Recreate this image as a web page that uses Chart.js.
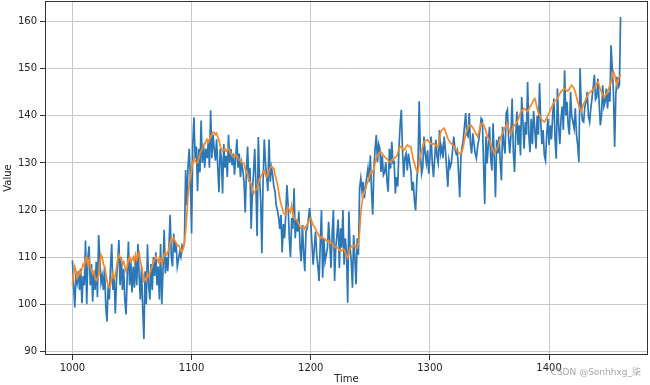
<!DOCTYPE html>
<html>
<head>
<meta charset="utf-8">
<script src="https://cdn.jsdelivr.net/npm/chart.js@4.4.0/dist/chart.umd.min.js"></script>
<style>
  html, body { margin: 0; padding: 0; background: #fff; }
  #wrap { width: 650px; height: 385px; position: relative; }
</style>
</head>
<body>
<div id="wrap"><canvas id="chart"></canvas></div>
<script>
// time axis starts at 1000, one value per step
const startTime = 1000
const xTicks = [1000, 1100, 1200, 1300, 1400]
const yTicks = [90, 100, 110, 120, 130, 140, 150, 160]

// noisy series (blue)
const series = [
  109.3, 104, 99.3, 106, 104.5, 107, 103, 107.5, 100.2, 106,
  104, 113.5, 100, 110, 112.3, 104, 108.5, 100.5, 107, 103,
  109, 101.5, 114.7, 110, 104.5, 106, 103, 108, 99.5, 96.3,
  104, 101, 108, 112.8, 103, 106, 98, 105, 109, 113.6,
  104, 110, 103, 107.5, 101, 97.8, 106, 113.3, 104, 109,
  102.5, 108, 103.5, 110, 104, 112.8, 106, 101, 108, 99,
  92.6, 107, 100, 112.7, 104, 101, 108.5, 103, 110, 106,
  111, 104, 108, 101, 112.8, 100, 107, 115.8, 106.5, 110,
  107, 112, 119, 110, 108, 115, 111, 113, 108, 109.5,
  111, 110, 112.5, 112, 113, 128.5, 121, 129, 133, 127,
  115, 134, 139.7, 131, 133.5, 124, 133, 128, 139, 130,
  134, 129, 133, 131, 134.5, 129, 141.2, 131, 136, 133,
  130.5, 135, 129, 123.8, 133, 131, 123.5, 134, 129, 131.5,
  127, 136, 130, 133, 129.5, 132, 127.5, 131, 135, 129,
  132, 127, 130, 128.5, 126, 119.5, 128, 133.5, 126, 129,
  116, 124, 128, 133, 125, 114.5, 135.5, 127, 122, 110.8,
  126, 135, 130, 127, 124, 135, 126, 129, 127.5, 125,
  124, 121, 120, 118.5, 116, 119, 111, 117, 114, 119,
  125.3, 121, 114, 110, 118.3, 116, 124.6, 114, 118, 115.4,
  119.7, 112, 109.1, 116.8, 111, 107, 115.4, 116.1, 118, 120.4,
  117.5, 113, 108.4, 111.9, 115.4, 110.5, 108, 104.9, 113, 120,
  105.6, 114, 109, 110.5, 111.9, 117.5, 113, 107.7, 115, 120,
  104.9, 111.9, 114.7, 118, 107.7, 116.1, 112, 120, 108.4, 114,
  111, 100.3, 119.7, 112, 109.1, 103.5, 114.7, 110, 104.2, 114,
  110.5, 124.6, 126.7, 124, 126, 122.5, 125, 127, 128.8, 126,
  131.6, 124, 119, 128.8, 133, 135.9, 130.2, 134, 133, 128.1,
  131.6, 127.4, 128, 130.2, 126, 123.9, 133, 128.8, 134.5, 130,
  130.2, 123.5, 127, 125, 133, 138, 141.3, 132.7, 127, 131,
  132, 128.4, 132, 130, 128.4, 124.1, 126, 122, 119.9, 126.3,
  130, 143.1, 132, 127.7, 129, 135.6, 132, 130, 132.7, 127.7,
  131, 135.6, 129.9, 127, 131, 134.9, 131.3, 130, 137, 132,
  133.4, 131, 135.6, 132.7, 129, 124.9, 130.6, 129.1, 130, 132.7,
  135.6, 133, 132, 132.7, 128, 122.7, 131.3, 133.4, 135, 137.7,
  140.6, 136, 135.6, 140.6, 134, 132, 136.3, 134.1, 132, 131,
  133.4, 134.9, 137, 139.5, 139.1, 130, 121.3, 135.6, 129.9, 134,
  137.7, 131, 128.4, 138.4, 131, 122.7, 134.9, 132, 135.6, 130,
  126.3, 137.7, 134, 132, 140.6, 141.3, 135.6, 132, 136, 143.7,
  132.3, 128.1, 136, 140.9, 133.8, 138, 131.6, 144, 139, 133,
  138.7, 136, 147.2, 136, 132.3, 139.4, 134, 141, 137.3, 133,
  140, 136, 147, 138.7, 134, 137, 131.6, 130.5, 136, 139.4,
  133.8, 138, 135, 140.1, 143.7, 135, 130.9, 145.8, 138, 134,
  139.4, 142, 137, 149.7, 140.1, 143, 138, 136, 145.1, 140,
  138.7, 137.3, 141.6, 136, 133.8, 130.2, 150.1, 141.6, 139, 138.7,
  142, 143, 145.1, 140, 138.7, 141.6, 143.7, 146, 148.7, 143.5,
  144, 147.9, 143, 138, 140, 146.5, 142, 143, 145.8, 141.6,
  145, 143, 155, 150, 145, 133.4, 144.4, 148.3, 146, 146.5,
  161
]

// smoothed forecast (orange)
const forecast = [
  104, 106.5, 108, 107, 105.5, 106, 107, 106.5, 107.5, 108.5,
  108, 109.5, 110, 108.5, 109.5, 108, 107, 106.5, 107, 105.5,
  105, 105.5, 106, 108.5, 110.5, 110, 108.5, 108, 106.5, 105,
  104, 103.5, 104, 105.5, 106.5, 105.5, 106, 108, 109.5, 110.5,
  110, 109.5, 108.5, 109, 108, 107, 108, 109.5, 110, 109,
  109.5, 110, 109, 110.5, 109.5, 110.5, 111, 109, 108, 106.5,
  105, 105.5, 105, 106.5, 106, 106.5, 107.5, 108, 109, 109.5,
  110, 109.5, 109, 110, 109.5, 108.5, 109.5, 110.5, 111, 110.5,
  111, 112, 113, 114, 113.5, 114, 113.5, 113, 112.5, 112.5,
  112, 111.5, 111, 112, 113, 115.5, 119, 123, 125.5, 127,
  128.5, 130, 131, 130.5, 130, 130, 131, 132, 132.5, 133,
  134, 134, 134.5, 135, 134.5, 135, 135.5, 136, 136.5, 136.5,
  136, 136.3, 135.5, 134.8, 133.5, 133, 132.5, 132.7, 133, 132.5,
  132.7, 133, 132.5, 132, 131.5, 131.3, 131.5, 131.8, 131.5, 131,
  130.6, 130.5, 130.2, 130, 129.9, 128.8, 128, 127.7, 126.5, 126,
  125.5, 124.5, 123.5, 124, 124.2, 124.5, 125.5, 126.5, 127, 127.5,
  128, 128.4, 127.5, 127, 127.5, 128.5, 129, 129.3, 129, 128.8,
  127.5, 126.5, 125.5, 124, 122.5, 121.3, 120.5, 119.5, 119.2, 119,
  120, 120.5, 120, 119.5, 121, 119.5, 118.3, 118, 117.8, 117.5,
  117, 116.5, 116.1, 116.3, 116.5, 116, 116.5, 116.8, 117.5, 118,
  118.3, 117.5, 116.8, 116.5, 116, 115.4, 115, 114.5, 114, 114.3,
  114, 114, 113.8, 113.5, 113.3, 113.5, 113, 113, 112.8, 112.5,
  112.3, 112, 111.9, 112, 111.5, 111.2, 111.4, 111.6, 111.6, 111,
  110.3, 109.8, 110.8, 112, 112.3, 112, 112.3, 112.5, 112, 111.9,
  113, 115.4, 119.5, 121.5, 123, 123.9, 124.5, 125.5, 126, 127,
  128, 128.3, 128, 128.8, 130, 131, 131.6, 132, 132.3, 132.3,
  132, 131.6, 131.3, 131, 130.9, 130.5, 130.3, 130.2, 130.5, 130.9,
  131, 131.2, 131.4, 132, 133, 133.5, 133.4, 133, 132.7, 133,
  133.5, 133.8, 133.6, 133.5, 133.4, 132, 130.8, 129.9, 129, 128.3,
  128.1, 130, 131.5, 132.5, 133.5, 134.5, 134.7, 134.8, 134.9, 134.5,
  134.3, 134.1, 134, 134.1, 134, 133.8, 133.5, 133.4, 135, 136.5,
  137, 137.2, 137.4, 136.8, 136, 135.2, 134.8, 134.3, 134.1, 133.8,
  133.5, 133.2, 132.8, 132.5, 132.2, 132, 132, 132.5, 133.5, 134.9,
  136, 137, 137.5, 138, 138.1, 137.8, 137.5, 137, 136.5, 136,
  135.6, 136.5, 137.5, 138.4, 138.3, 138.1, 137.5, 136.8, 135.8, 135.2,
  134.8, 134.1, 133.3, 132.6, 132, 132.4, 133, 133.4, 134.3, 135.2,
  135.8, 136.3, 137, 137.5, 138, 138.3, 137.5, 136.5, 136, 137,
  137.8, 138, 138.3, 138.6, 139.2, 140, 140.7, 141, 141.3, 141.6,
  141.4, 141.1, 140.9, 141.5, 142, 142.3, 142.8, 143.4, 143.7, 142.8,
  141.5, 140.6, 140.2, 139.6, 139.1, 138.9, 138.7, 139, 139.6, 140.1,
  140.6, 141.2, 141.8, 142.3, 142.8, 143.2, 143.4, 143.7, 144.2, 144.7,
  145.1, 145.4, 145.6, 145.8, 145.6, 145.3, 145.3, 145.7, 146.2, 146.5,
  146.2, 145.8, 145, 144, 143, 142.2, 141.5, 140.9, 141.8, 142.6,
  143, 143.6, 144.2, 144.6, 144.9, 145.1, 145.4, 145.6, 145.8, 146.4,
  146.9, 147.2, 146.5, 145.6, 145.1, 144.5, 143.9, 144.2, 144.7, 145.1,
  145.7, 146.5, 147.2, 148.6, 149.4, 148.7, 147.5, 146.5, 147.9, 148.3,
  148.7
]

const toPoints = arr => arr.map((v, i) => ({ x: startTime + i, y: v }))

// full box round the plot, like matplotlib spines
const frame = {
  id: 'frame',
  afterDatasetsDraw(chart) {
    const { ctx, chartArea: a } = chart
    ctx.save()
    ctx.strokeStyle = '#333'
    ctx.lineWidth = 1
    ctx.strokeRect(a.left + 0.5, a.top + 0.5, a.right - a.left - 1, a.bottom - a.top - 1)
    ctx.restore()
  }
}

const watermark = {
  id: 'watermark',
  afterDraw(chart) {
    const ctx = chart.ctx
    ctx.save()
    ctx.font = '9px "DejaVu Sans", "Noto Sans CJK SC", sans-serif'
    ctx.fillStyle = '#a8a8a8'
    ctx.textAlign = 'right'
    ctx.textBaseline = 'middle'
    ctx.fillText('CSDN @Sonhhxg_柒', 641, 373)
    ctx.restore()
  }
}

Chart.defaults.font.family = '"DejaVu Sans", sans-serif'
Chart.defaults.color = '#222'

new Chart(document.getElementById('chart'), {
  type: 'line',
  data: {
    datasets: [
      { label: 'forecast', data: toPoints(forecast), borderColor: '#f5882a', borderWidth: 1.7, pointRadius: 0, order: 0 },
      { label: 'series', data: toPoints(series), borderColor: '#2c77b5', borderWidth: 1.7, pointRadius: 0, order: 1 }
    ]
  },
  options: {
    responsive: true,
    maintainAspectRatio: false,
    animation: false,
    layout: { padding: { top: 1, right: 2, left: 0, bottom: 0 } },
    plugins: { legend: { display: false }, tooltip: { enabled: false } },
    scales: {
      x: {
        type: 'linear',
        min: 977,
        max: 1483,
        afterBuildTicks: s => { s.ticks = xTicks.map(v => ({ value: v })) },
        afterFit: s => { s.height = 30; s.paddingLeft = 0; s.paddingRight = 0 },
        grid: { color: '#c8c8c8', tickColor: '#333', tickLength: 5 },
        border: { display: false },
        ticks: { font: { size: 10 }, padding: 2, maxRotation: 0, callback: v => String(v) },
        title: { display: true, text: 'Time', font: { size: 10 }, padding: { top: 0, bottom: 0 } }
      },
      y: {
        min: 89.2,
        max: 164.4,
        afterBuildTicks: s => { s.ticks = yTicks.map(v => ({ value: v })) },
        afterFit: s => { s.width = 45; s.paddingTop = 0; s.paddingBottom = 0 },
        grid: { color: '#c8c8c8', tickColor: '#333', tickLength: 5 },
        border: { display: false },
        ticks: { font: { size: 10 }, padding: 3, callback: v => String(v) },
        title: { display: true, text: 'Value', font: { size: 10 }, padding: { top: 2, bottom: 0 } }
      }
    }
  },
  plugins: [frame, watermark]
})
</script>
</body>
</html>
